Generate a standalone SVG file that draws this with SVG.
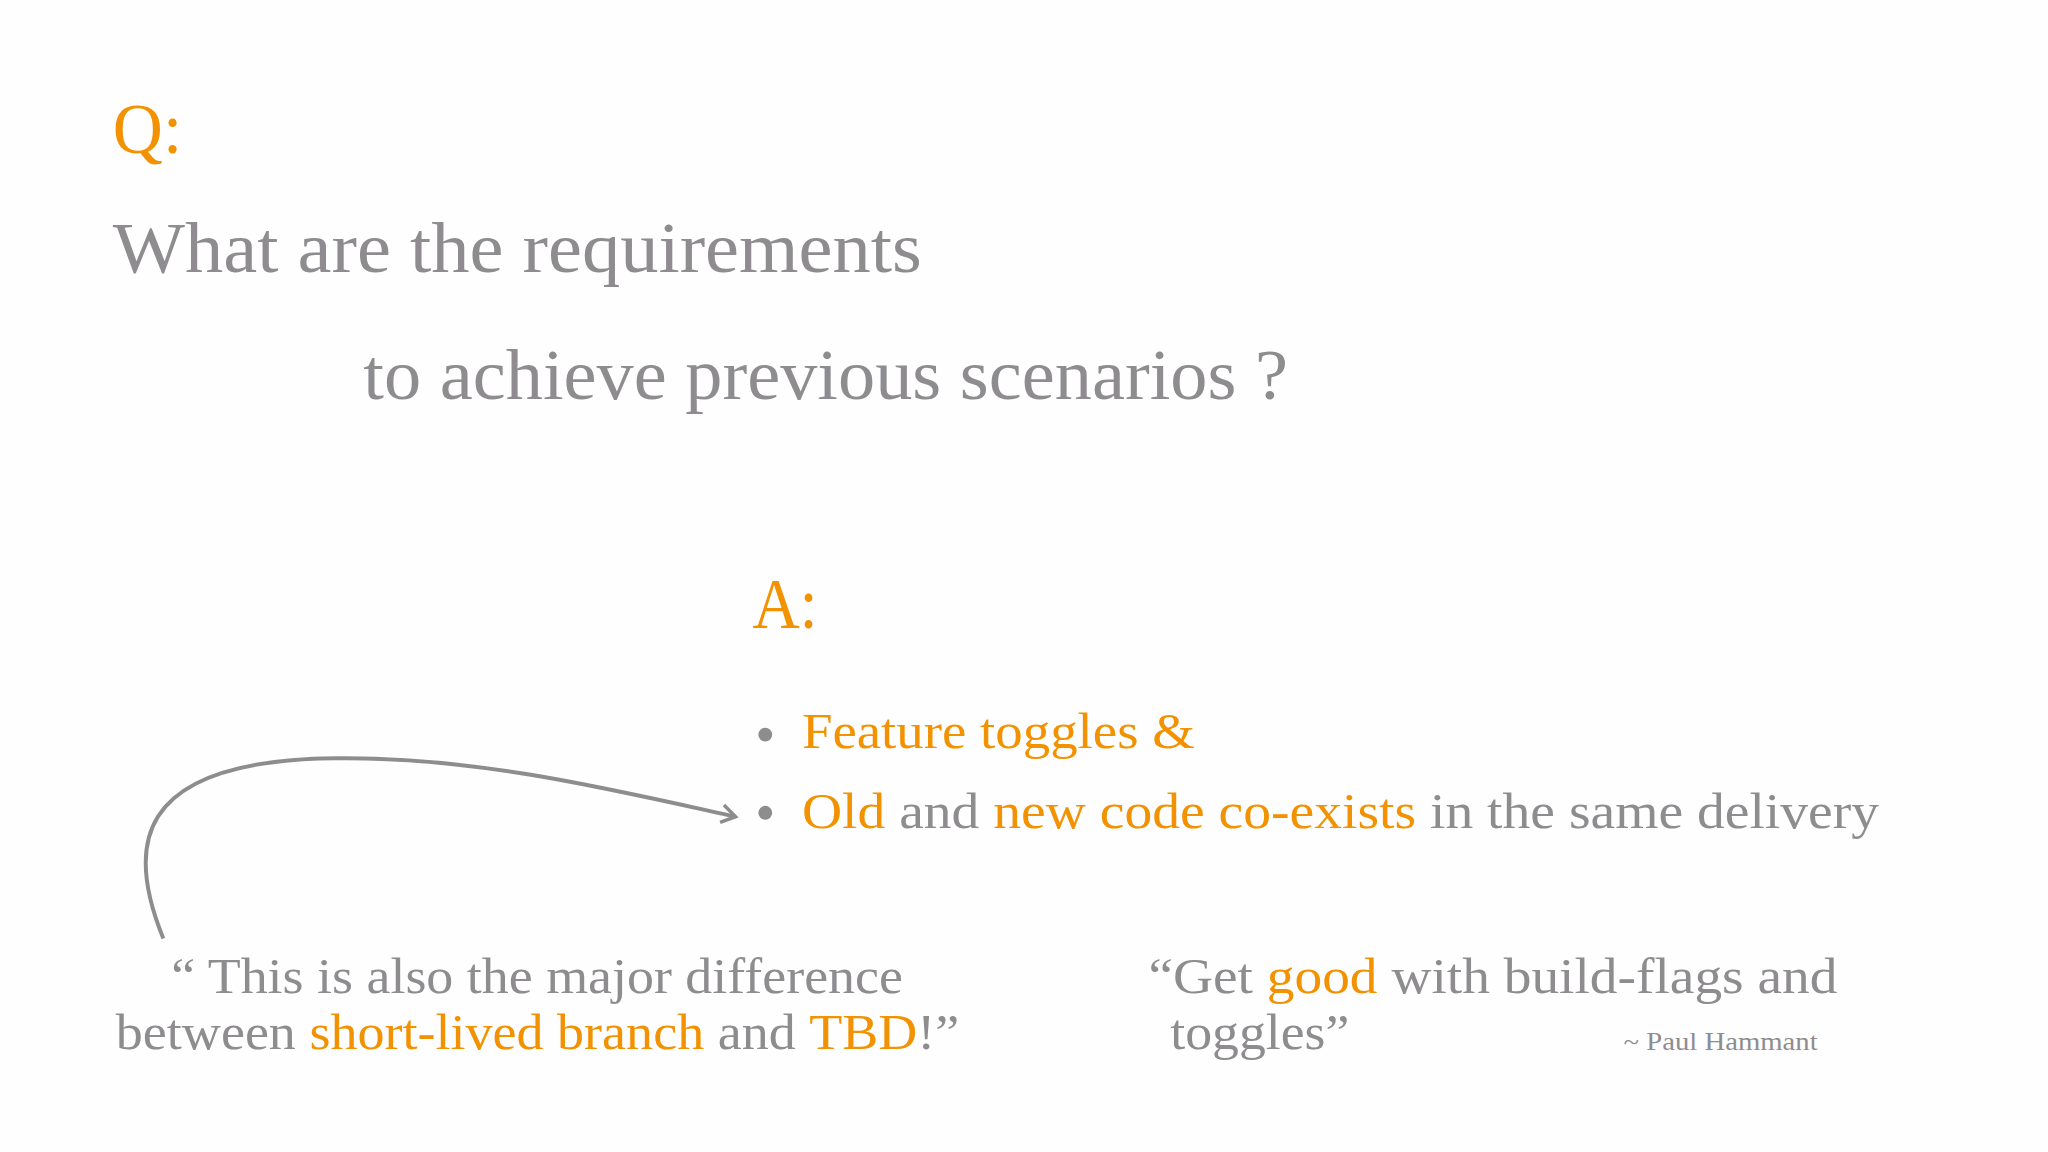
<svg xmlns="http://www.w3.org/2000/svg" width="2048" height="1152" viewBox="0 0 2048 1152">
<style>
text{font-family:"Liberation Serif","DejaVu Serif",serif;fill:#8e8c8f}
.o{fill:#f39200}
.big{font-size:72px}
.mid{font-size:52px}
.sm{font-size:26px}
</style>
<defs><marker id="ah" viewBox="0 0 24 24" refX="19" refY="12" markerWidth="24" markerHeight="24" markerUnits="userSpaceOnUse" orient="auto"><path d="M5 3 L19 12 L5 21" fill="none" stroke="#8e8c8f" stroke-width="3.5"/></marker></defs>
<rect width="2048" height="1152" fill="#fefefe"/>
<g transform="translate(1,0) scale(0.99)">
<g id="question">
<text class="big o" x="113" y="155" textLength="70" lengthAdjust="spacingAndGlyphs">Q:</text>
<text class="big" x="113" y="275" textLength="817" lengthAdjust="spacingAndGlyphs">What are the requirements</text>
<text class="big" x="366" y="403" textLength="934" lengthAdjust="spacingAndGlyphs">to achieve previous scenarios ?</text>
</g>
<g id="answer">
<text class="big o" x="759" y="634" textLength="66" lengthAdjust="spacingAndGlyphs">A:</text>
<circle cx="772" cy="742" r="7" fill="#8e8c8f"/>
<text class="mid o" x="809" y="756" textLength="397" lengthAdjust="spacingAndGlyphs">Feature toggles &amp;</text>
<circle cx="772" cy="821" r="7" fill="#8e8c8f"/>
<text class="mid" x="809" y="836" textLength="1088" lengthAdjust="spacingAndGlyphs"><tspan class="o">Old</tspan> and <tspan class="o">new code co-exists</tspan> in the same delivery</text>
</g>
<g id="quote-left">
<text class="mid" x="172" y="1003" textLength="739" lengthAdjust="spacingAndGlyphs">“ This is also the major difference</text>
<text class="mid" x="116" y="1060" textLength="852" lengthAdjust="spacingAndGlyphs">between <tspan class="o">short-lived branch</tspan> and <tspan class="o">TBD</tspan>!”</text>
</g>
<g id="quote-right">
<text class="mid" x="1159" y="1003" textLength="696" lengthAdjust="spacingAndGlyphs">“Get <tspan class="o">good</tspan> with build-flags and</text>
<text class="mid" x="1181" y="1060" textLength="181" lengthAdjust="spacingAndGlyphs">toggles”</text>
<text class="sm" x="1639" y="1061" textLength="196" lengthAdjust="spacingAndGlyphs">~ Paul Hammant</text>
</g>
<g id="connectors">
<path d="M164 948 C128 860 128 768 337 766 C480 764 620 798 742 825" fill="none" stroke="#8e8c8f" stroke-width="4" marker-end="url(#ah)"/>
</g>
</g>
</svg>
